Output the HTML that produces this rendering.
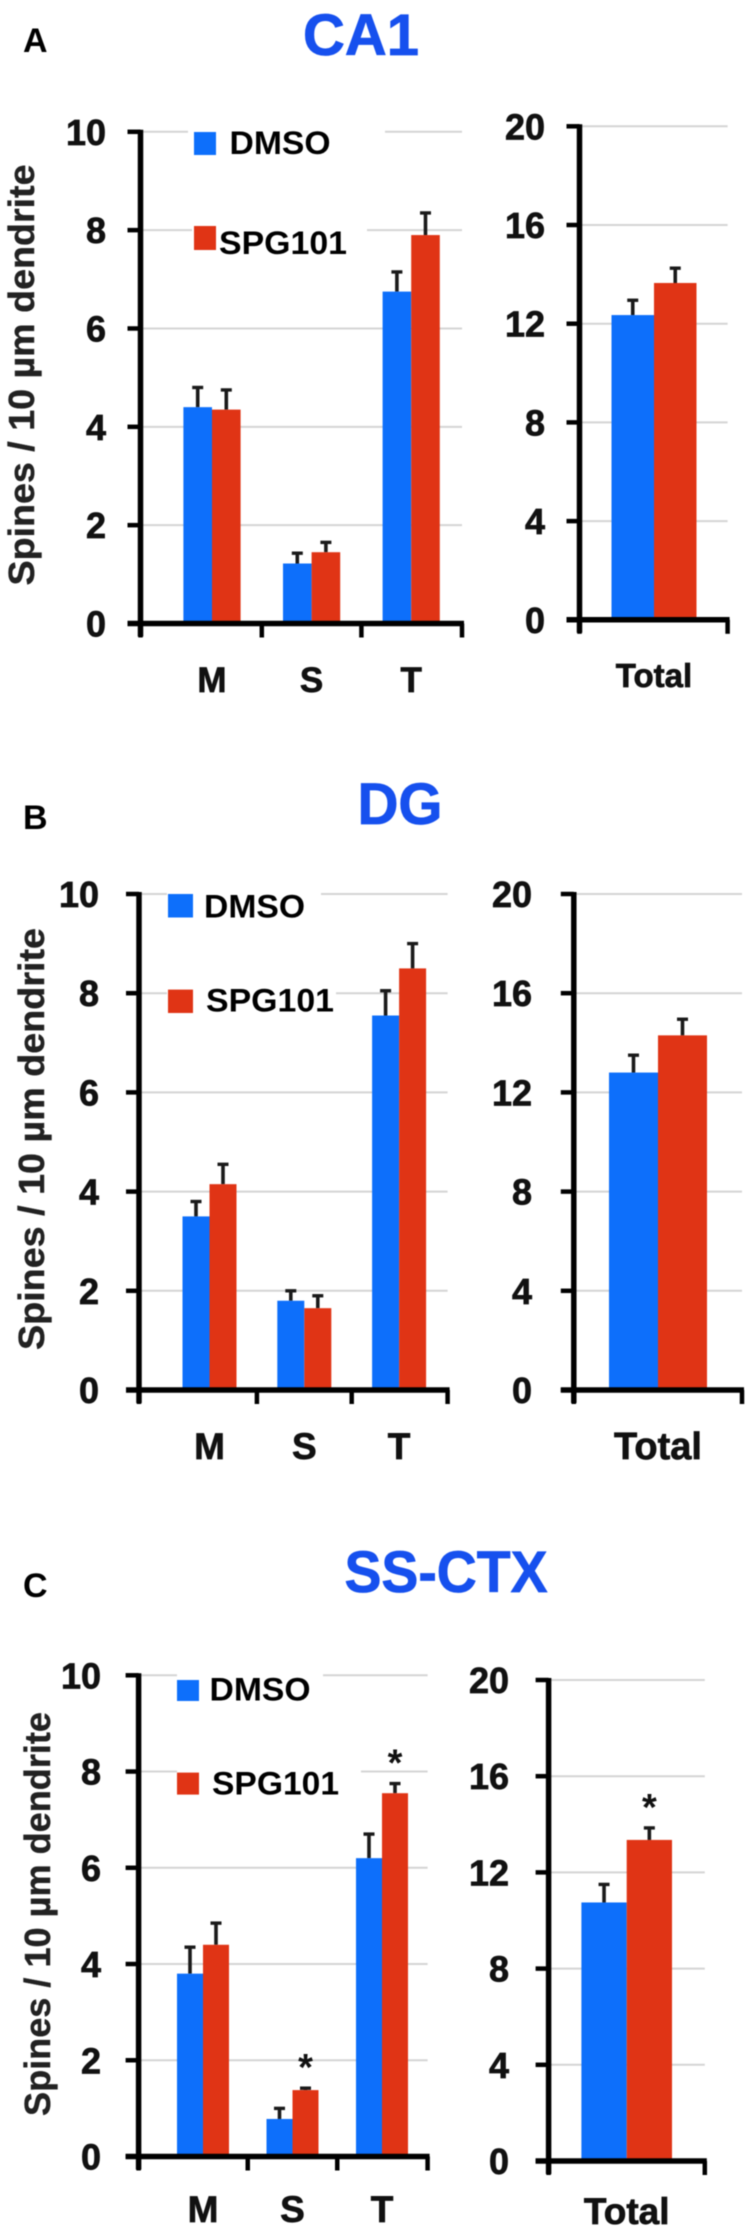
<!DOCTYPE html>
<html lang="en">
<head>
<meta charset="utf-8">
<title>Spine density charts</title>
<style>
html,body{margin:0;padding:0;background:#fff;width:746px;height:2230px;overflow:hidden}
svg{display:block;filter:blur(.55px)}
text{font-family:"Liberation Sans",sans-serif;font-weight:bold;fill:#111}
.title{fill:#1650ee;font-size:58px;text-anchor:middle;stroke:#1650ee;stroke-width:.8px}
.letter{font-size:34px;fill:#000}
.leg{font-size:32px;fill:#000}
.ytitle{font-size:36px;fill:#222;text-anchor:middle;stroke:#222;stroke-width:.4px}
.tick-text{stroke:#111;stroke-width:.7px}
</style>
</head>
<body>
<svg id="figure" xmlns="http://www.w3.org/2000/svg" width="746" height="2230" viewBox="0 0 746 2230">
  <rect width="746" height="2230" fill="#fff"/>
  <text class="letter" x="23" y="52">A</text>
  <text class="title" x="361" y="55" textLength="116" lengthAdjust="spacingAndGlyphs">CA1</text>
  <text class="letter" x="23" y="829">B</text>
  <text class="title" x="400" y="824" textLength="85" lengthAdjust="spacingAndGlyphs">DG</text>
  <text class="letter" x="23" y="1597">C</text>
  <text class="title" x="446" y="1592" textLength="203" lengthAdjust="spacingAndGlyphs">SS-CTX</text>
  <text class="ytitle" transform="translate(34,375) rotate(-90)" textLength="421" lengthAdjust="spacingAndGlyphs">Spines / 10 µm dendrite</text>
  <text class="ytitle" transform="translate(44,1139) rotate(-90)" textLength="422" lengthAdjust="spacingAndGlyphs">Spines / 10 µm dendrite</text>
  <text class="ytitle" transform="translate(50,1914) rotate(-90)" textLength="404" lengthAdjust="spacingAndGlyphs">Spines / 10 µm dendrite</text>
  <g id="plots"></g>
  <g id="legends">
    <rect x="194" y="132" width="22" height="23" fill="#0d6ffb"/>
    <text class="leg" x="229.5" y="154" textLength="101" lengthAdjust="spacingAndGlyphs">DMSO</text>
    <rect x="194" y="226" width="22" height="24" fill="#e03415"/>
    <text class="leg" x="219" y="254" textLength="128" lengthAdjust="spacingAndGlyphs">SPG101</text>
    <rect x="168" y="894" width="25" height="23.500" fill="#0d6ffb"/>
    <text class="leg" x="204" y="917.500" textLength="101" lengthAdjust="spacingAndGlyphs">DMSO</text>
    <rect x="168" y="989.600" width="25" height="23.400" fill="#e03415"/>
    <text class="leg" x="206" y="1011.600" textLength="128" lengthAdjust="spacingAndGlyphs">SPG101</text>
    <rect x="177" y="1680" width="22" height="21" fill="#0d6ffb"/>
    <text class="leg" x="209.500" y="1700.500" textLength="101" lengthAdjust="spacingAndGlyphs">DMSO</text>
    <rect x="177" y="1772.600" width="22" height="22" fill="#e03415"/>
    <text class="leg" x="212" y="1794.700" textLength="127" lengthAdjust="spacingAndGlyphs">SPG101</text>
  </g>
</svg>
<script>
const categories = ['M', 'S', 'T'];
const totalCategory = ['Total'];
const leftTicks = [0, 2, 4, 6, 8, 10];
const rightTicks = [0, 4, 8, 12, 16, 20];

const ca1Dmso = [4.4, 1.22, 6.75];
const ca1Spg = [4.35, 1.45, 7.9];
const ca1DmsoErr = [0.4, 0.21, 0.4];
const ca1SpgErr = [0.4, 0.2, 0.45];
const ca1TotalDmso = [12.35];
const ca1TotalSpg = [13.65];
const ca1TotalDmsoErr = [0.6];
const ca1TotalSpgErr = [0.6];

const dgDmso = [3.5, 1.8, 7.55];
const dgSpg = [4.15, 1.65, 8.5];
const dgDmsoErr = [0.3, 0.2, 0.5];
const dgSpgErr = [0.4, 0.25, 0.5];
const dgTotalDmso = [12.8];
const dgTotalSpg = [14.3];
const dgTotalDmsoErr = [0.7];
const dgTotalSpgErr = [0.65];

const ctxDmso = [3.8, 0.78, 6.2];
const ctxSpg = [4.4, 1.38, 7.55];
const ctxDmsoErr = [0.55, 0.22, 0.5];
const ctxSpgErr = [0.45, 0.04, 0.2];
const ctxTotalDmso = [10.75];
const ctxTotalSpg = [13.35];
const ctxTotalDmsoErr = [0.75];
const ctxTotalSpgErr = [0.5];
const ctxSignificant = [false, true, true];
const ctxTotalSignificant = [true];

const NS = 'http://www.w3.org/2000/svg';
const root = document.getElementById('plots');

function make(tag, attrs, parent) {
  const node = document.createElementNS(NS, tag);
  for (const key in attrs) node.setAttribute(key, attrs[key]);
  parent.appendChild(node);
  return node;
}

function drawChart(opt) {
  const group = make('g', {}, root);
  
  
  const maxV = opt.ticks[opt.ticks.length - 1];
  const yScale = v => opt.y0 - (v / maxV) * (opt.y0 - opt.yTop);
  const xScale = i => opt.firstCenter + i * opt.step;

  opt.ticks.forEach(t => {
    if (t === 0) return;
    const grid = make('line', { x1: opt.x0, x2: opt.xEnd, y1: yScale(t), y2: yScale(t), stroke: '#d4d4d4', 'stroke-width': 2 }, group);
    
    
  });

  (opt.masks || []).forEach(m => {
    const mask = make('rect', { x: m.from, width: m.to - m.from, y: yScale(m.at) - 3, height: 6, fill: '#fff' }, group);
    
    
  });

  const series = [
    { values: opt.dmso, errs: opt.dmsoErr, color: '#0d6ffb', offset: -1, label: 'dmso' },
    { values: opt.spg, errs: opt.spgErr, color: '#e03415', offset: 0, label: 'spg101' }
  ];
  series.forEach(s => {
    s.values.forEach((v, i) => {
      const left = xScale(i) + s.offset * opt.barW;
      const mid = left + opt.barW / 2;
      const top = yScale(v + s.errs[i]);
      const stem = make('line', { x1: mid, x2: mid, y1: yScale(v), y2: top, stroke: '#1a1a1a', 'stroke-width': 3.6 }, group);
      
      
      const cap = make('line', { x1: mid - 5.5, x2: mid + 5.5, y1: top, y2: top, stroke: '#1a1a1a', 'stroke-width': 3.4 }, group);
      
      
      const bar = make('rect', { x: left, y: yScale(v), width: opt.barW, height: opt.y0 - yScale(v), fill: s.color }, group);
      
      
    });
  });

  (opt.sig || []).forEach((flag, i) => {
    if (!flag) return;
    const star = make('text', { x: xScale(i) + opt.barW / 2, y: yScale(opt.spg[i] + opt.spgErr[i]) - 8, 'font-size': 38, 'text-anchor': 'middle', fill: '#111' }, group);
    star.textContent = '*';
    
    
  });

  const yAxis = make('line', { x1: opt.x0, x2: opt.x0, y1: opt.yTop - 2, y2: opt.y0 + 13, stroke: '#000', 'stroke-width': 5.5 }, group);
  
  
  const xAxis = make('line', { x1: opt.x0 - 13, x2: opt.xEnd + 2, y1: opt.y0, y2: opt.y0, stroke: '#000', 'stroke-width': 5.5 }, group);
  
  

  opt.ticks.forEach(t => {
    const y = yScale(t);
    const tick = make('line', { x1: opt.x0 - 13, x2: opt.x0, y1: y, y2: y, stroke: '#000', 'stroke-width': 4.5 }, group);
    
    
    const label = make('text', { x: opt.labelRight, y: y + 13, 'font-size': 36, 'text-anchor': 'end', class: 'tick-text' }, group);
    label.textContent = String(t);
    
    
  });

  const xTicks = [opt.x0];
  for (let i = 0; i < opt.cats.length - 1; i++) xTicks.push((xScale(i) + xScale(i + 1)) / 2);
  xTicks.push(opt.xEnd);
  xTicks.forEach(x => {
    const tick = make('line', { x1: x, x2: x, y1: opt.y0, y2: opt.y0 + 14, stroke: '#000', 'stroke-width': 4.5 }, group);
    
    
  });

  opt.cats.forEach((c, i) => {
    const label = make('text', { x: xScale(i), y: opt.catY, 'font-size': opt.catSize, 'text-anchor': 'middle', class: 'tick-text' }, group);
    label.textContent = c;
    
    
  });
}

drawChart({ name: 'ca1-subtype-chart', ticks: leftTicks, cats: categories, dmso: ca1Dmso, spg: ca1Spg, dmsoErr: ca1DmsoErr, spgErr: ca1SpgErr,
  x0: 140.5, xEnd: 462, y0: 623.5, yTop: 131.8, firstCenter: 212, step: 99.6, barW: 28.6, labelRight: 106, catY: 692, catSize: 35,
  masks: [{ at: 10, from: 188, to: 385 }, { at: 8, from: 192, to: 367 }] });
drawChart({ name: 'ca1-total-chart', ticks: rightTicks, cats: totalCategory, dmso: ca1TotalDmso, spg: ca1TotalSpg, dmsoErr: ca1TotalDmsoErr, spgErr: ca1TotalSpgErr,
  x0: 579.5, xEnd: 727.6, y0: 619.8, yTop: 126.3, firstCenter: 654, step: 0, barW: 42.5, labelRight: 545, catY: 687, catSize: 33 });

drawChart({ name: 'dg-subtype-chart', ticks: leftTicks, cats: categories, dmso: dgDmso, spg: dgSpg, dmsoErr: dgDmsoErr, spgErr: dgSpgErr,
  x0: 139, xEnd: 447.6, y0: 1390, yTop: 894, firstCenter: 209.5, step: 94.8, barW: 27, labelRight: 99, catY: 1459, catSize: 37,
  masks: [{ at: 10, from: 167, to: 321 }, { at: 8, from: 167, to: 336 }] });
drawChart({ name: 'dg-total-chart', ticks: rightTicks, cats: totalCategory, dmso: dgTotalDmso, spg: dgTotalSpg, dmsoErr: dgTotalDmsoErr, spgErr: dgTotalSpgErr,
  x0: 573.8, xEnd: 742, y0: 1390, yTop: 894, firstCenter: 658, step: 0, barW: 49, labelRight: 532, catY: 1459, catSize: 38 });

drawChart({ name: 'ss-ctx-subtype-chart', ticks: leftTicks, cats: categories, dmso: ctxDmso, spg: ctxSpg, dmsoErr: ctxDmsoErr, spgErr: ctxSpgErr, sig: ctxSignificant,
  x0: 138.6, xEnd: 427.6, y0: 2156.5, yTop: 1675.3, firstCenter: 203, step: 89.5, barW: 26, labelRight: 101, catY: 2222, catSize: 37,
  masks: [{ at: 10, from: 177, to: 323 }, { at: 8, from: 177, to: 361 }] });
drawChart({ name: 'ss-ctx-total-chart', ticks: rightTicks, cats: totalCategory, dmso: ctxTotalDmso, spg: ctxTotalSpg, dmsoErr: ctxTotalDmsoErr, spgErr: ctxTotalSpgErr, sig: ctxTotalSignificant,
  x0: 548.6, xEnd: 704.8, y0: 2161, yTop: 1680, firstCenter: 626.7, step: 0, barW: 45.3, labelRight: 509, catY: 2224, catSize: 37 });
</script>
</body>
</html>
